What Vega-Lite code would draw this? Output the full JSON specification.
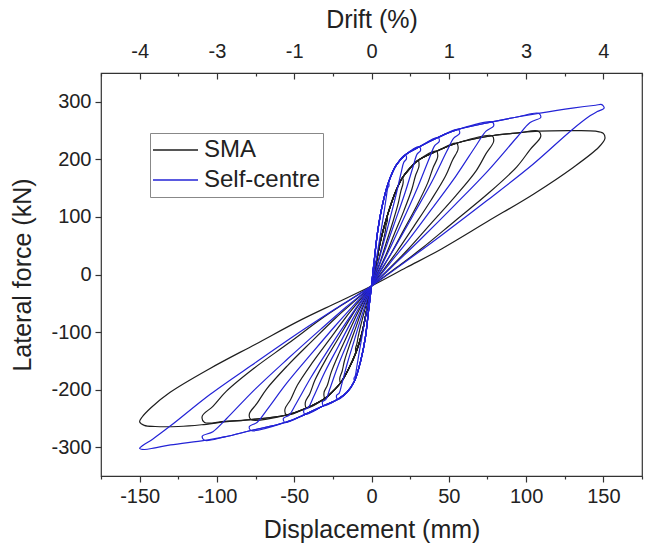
{
"$schema":"https://vega.github.io/schema/vega-lite/v6.json",
"width":541,"height":403,
"autosize":{"type":"none"},
"padding":{"left":101,"top":73,"right":3,"bottom":74},
"background":"white",
"config":{"view":{"stroke":"#333","strokeWidth":1.2},"font":"Liberation Sans",
"axis":{"labelFont":"Liberation Sans","titleFont":"Liberation Sans","labelFontSize":20,"titleFontSize":25,"labelColor":"#222","titleColor":"#222","titleFontWeight":"normal","tickColor":"#333","domain":false,"grid":false,"tickWidth":1.2}},
"data":{"values":[
{"s":"SMA","c":0,"d":0,"f":-20},{"s":"SMA","c":0,"d":3,"f":20},{"s":"SMA","c":0,"d":6,"f":60},{"s":"SMA","c":0,"d":10,"f":100},{"s":"SMA","c":0,"d":10.3,"f":94},{"s":"SMA","c":0,"d":9.5,"f":86},{"s":"SMA","c":0,"d":8.7,"f":72},{"s":"SMA","c":0,"d":7,"f":52},{"s":"SMA","c":0,"d":5,"f":30},{"s":"SMA","c":0,"d":3,"f":9},{"s":"SMA","c":0,"d":1.5,"f":-6},{"s":"SMA","c":0,"d":0,"f":-20},{"s":"SMA","c":0,"d":-1.5,"f":-34},{"s":"SMA","c":0,"d":-3,"f":-48},{"s":"SMA","c":0,"d":-5,"f":-68},{"s":"SMA","c":0,"d":-7,"f":-89},{"s":"SMA","c":0,"d":-8.7,"f":-109},{"s":"SMA","c":0,"d":-9.5,"f":-121},{"s":"SMA","c":0,"d":-10.3,"f":-128},{"s":"SMA","c":0,"d":-10,"f":-135},{"s":"SMA","c":0,"d":-6,"f":-100},{"s":"SMA","c":0,"d":-3,"f":-60},{"s":"SMA","c":0,"d":0,"f":-20},
{"s":"SMA","c":1,"d":0,"f":-20},{"s":"SMA","c":1,"d":3,"f":20},{"s":"SMA","c":1,"d":6,"f":60},{"s":"SMA","c":1,"d":10,"f":100},{"s":"SMA","c":1,"d":15,"f":140},{"s":"SMA","c":1,"d":20,"f":168},{"s":"SMA","c":1,"d":20.5,"f":160},{"s":"SMA","c":1,"d":19,"f":145},{"s":"SMA","c":1,"d":17.4,"f":125},{"s":"SMA","c":1,"d":14,"f":93},{"s":"SMA","c":1,"d":10,"f":59},{"s":"SMA","c":1,"d":6,"f":25},{"s":"SMA","c":1,"d":3,"f":3},{"s":"SMA","c":1,"d":0,"f":-20},{"s":"SMA","c":1,"d":-3,"f":-40},{"s":"SMA","c":1,"d":-6,"f":-60},{"s":"SMA","c":1,"d":-10,"f":-91},{"s":"SMA","c":1,"d":-14,"f":-121},{"s":"SMA","c":1,"d":-17.4,"f":-149},{"s":"SMA","c":1,"d":-19,"f":-168},{"s":"SMA","c":1,"d":-20.5,"f":-180},{"s":"SMA","c":1,"d":-20,"f":-188},{"s":"SMA","c":1,"d":-15,"f":-165},{"s":"SMA","c":1,"d":-10,"f":-135},{"s":"SMA","c":1,"d":-6,"f":-100},{"s":"SMA","c":1,"d":-3,"f":-60},{"s":"SMA","c":1,"d":0,"f":-20},
{"s":"SMA","c":2,"d":0,"f":-20},{"s":"SMA","c":2,"d":3,"f":20},{"s":"SMA","c":2,"d":6,"f":60},{"s":"SMA","c":2,"d":10,"f":100},{"s":"SMA","c":2,"d":15,"f":140},{"s":"SMA","c":2,"d":20,"f":168},{"s":"SMA","c":2,"d":25,"f":185},{"s":"SMA","c":2,"d":30,"f":198},{"s":"SMA","c":2,"d":30.7,"f":188},{"s":"SMA","c":2,"d":28.5,"f":172},{"s":"SMA","c":2,"d":26.1,"f":148},{"s":"SMA","c":2,"d":21,"f":111},{"s":"SMA","c":2,"d":15,"f":72},{"s":"SMA","c":2,"d":9,"f":32},{"s":"SMA","c":2,"d":4.5,"f":6},{"s":"SMA","c":2,"d":0,"f":-20},{"s":"SMA","c":2,"d":-4.5,"f":-43},{"s":"SMA","c":2,"d":-9,"f":-67},{"s":"SMA","c":2,"d":-15,"f":-102},{"s":"SMA","c":2,"d":-21,"f":-137},{"s":"SMA","c":2,"d":-26.1,"f":-170},{"s":"SMA","c":2,"d":-28.5,"f":-192},{"s":"SMA","c":2,"d":-30.7,"f":-205},{"s":"SMA","c":2,"d":-30,"f":-215},{"s":"SMA","c":2,"d":-25,"f":-203},{"s":"SMA","c":2,"d":-20,"f":-188},{"s":"SMA","c":2,"d":-15,"f":-165},{"s":"SMA","c":2,"d":-10,"f":-135},{"s":"SMA","c":2,"d":-6,"f":-100},{"s":"SMA","c":2,"d":-3,"f":-60},{"s":"SMA","c":2,"d":0,"f":-20},
{"s":"SMA","c":3,"d":0,"f":-20},{"s":"SMA","c":3,"d":3,"f":20},{"s":"SMA","c":3,"d":6,"f":60},{"s":"SMA","c":3,"d":10,"f":100},{"s":"SMA","c":3,"d":15,"f":140},{"s":"SMA","c":3,"d":20,"f":168},{"s":"SMA","c":3,"d":25,"f":185},{"s":"SMA","c":3,"d":30,"f":198},{"s":"SMA","c":3,"d":42,"f":214},{"s":"SMA","c":3,"d":42.8,"f":204},{"s":"SMA","c":3,"d":39.9,"f":186},{"s":"SMA","c":3,"d":36.5,"f":160},{"s":"SMA","c":3,"d":29.4,"f":120},{"s":"SMA","c":3,"d":21,"f":78},{"s":"SMA","c":3,"d":12.6,"f":36},{"s":"SMA","c":3,"d":6.3,"f":8},{"s":"SMA","c":3,"d":0,"f":-20},{"s":"SMA","c":3,"d":-6.3,"f":-45},{"s":"SMA","c":3,"d":-12.6,"f":-71},{"s":"SMA","c":3,"d":-21,"f":-109},{"s":"SMA","c":3,"d":-29.4,"f":-147},{"s":"SMA","c":3,"d":-36.5,"f":-183},{"s":"SMA","c":3,"d":-39.9,"f":-207},{"s":"SMA","c":3,"d":-42.8,"f":-222},{"s":"SMA","c":3,"d":-42,"f":-232},{"s":"SMA","c":3,"d":-30,"f":-215},{"s":"SMA","c":3,"d":-25,"f":-203},{"s":"SMA","c":3,"d":-20,"f":-188},{"s":"SMA","c":3,"d":-15,"f":-165},{"s":"SMA","c":3,"d":-10,"f":-135},{"s":"SMA","c":3,"d":-6,"f":-100},{"s":"SMA","c":3,"d":-3,"f":-60},{"s":"SMA","c":3,"d":0,"f":-20},
{"s":"SMA","c":4,"d":0,"f":-20},{"s":"SMA","c":4,"d":3,"f":20},{"s":"SMA","c":4,"d":6,"f":60},{"s":"SMA","c":4,"d":10,"f":100},{"s":"SMA","c":4,"d":15,"f":140},{"s":"SMA","c":4,"d":20,"f":168},{"s":"SMA","c":4,"d":25,"f":185},{"s":"SMA","c":4,"d":30,"f":198},{"s":"SMA","c":4,"d":42,"f":214},{"s":"SMA","c":4,"d":55,"f":228},{"s":"SMA","c":4,"d":56,"f":218},{"s":"SMA","c":4,"d":52.3,"f":198},{"s":"SMA","c":4,"d":47.9,"f":171},{"s":"SMA","c":4,"d":38.5,"f":129},{"s":"SMA","c":4,"d":27.5,"f":84},{"s":"SMA","c":4,"d":16.5,"f":40},{"s":"SMA","c":4,"d":8.3,"f":10},{"s":"SMA","c":4,"d":0,"f":-20},{"s":"SMA","c":4,"d":-8.3,"f":-47},{"s":"SMA","c":4,"d":-16.5,"f":-74},{"s":"SMA","c":4,"d":-27.5,"f":-114},{"s":"SMA","c":4,"d":-38.5,"f":-154},{"s":"SMA","c":4,"d":-47.9,"f":-192},{"s":"SMA","c":4,"d":-52.3,"f":-217},{"s":"SMA","c":4,"d":-56,"f":-234},{"s":"SMA","c":4,"d":-55,"f":-244},{"s":"SMA","c":4,"d":-42,"f":-232},{"s":"SMA","c":4,"d":-30,"f":-215},{"s":"SMA","c":4,"d":-25,"f":-203},{"s":"SMA","c":4,"d":-20,"f":-188},{"s":"SMA","c":4,"d":-15,"f":-165},{"s":"SMA","c":4,"d":-10,"f":-135},{"s":"SMA","c":4,"d":-6,"f":-100},{"s":"SMA","c":4,"d":-3,"f":-60},{"s":"SMA","c":4,"d":0,"f":-20},
{"s":"SMA","c":5,"d":0,"f":-20},{"s":"SMA","c":5,"d":3,"f":20},{"s":"SMA","c":5,"d":6,"f":60},{"s":"SMA","c":5,"d":10,"f":100},{"s":"SMA","c":5,"d":15,"f":140},{"s":"SMA","c":5,"d":20,"f":168},{"s":"SMA","c":5,"d":25,"f":185},{"s":"SMA","c":5,"d":30,"f":198},{"s":"SMA","c":5,"d":42,"f":214},{"s":"SMA","c":5,"d":55,"f":228},{"s":"SMA","c":5,"d":78,"f":241},{"s":"SMA","c":5,"d":79,"f":231},{"s":"SMA","c":5,"d":74.1,"f":210},{"s":"SMA","c":5,"d":67.9,"f":181},{"s":"SMA","c":5,"d":54.6,"f":137},{"s":"SMA","c":5,"d":39,"f":90},{"s":"SMA","c":5,"d":23.4,"f":43},{"s":"SMA","c":5,"d":11.7,"f":11},{"s":"SMA","c":5,"d":0,"f":-20},{"s":"SMA","c":5,"d":-11.7,"f":-48},{"s":"SMA","c":5,"d":-23.4,"f":-76},{"s":"SMA","c":5,"d":-39,"f":-117},{"s":"SMA","c":5,"d":-54.6,"f":-159},{"s":"SMA","c":5,"d":-67.9,"f":-199},{"s":"SMA","c":5,"d":-74.1,"f":-224},{"s":"SMA","c":5,"d":-79,"f":-242},{"s":"SMA","c":5,"d":-78,"f":-252},{"s":"SMA","c":5,"d":-55,"f":-244},{"s":"SMA","c":5,"d":-42,"f":-232},{"s":"SMA","c":5,"d":-30,"f":-215},{"s":"SMA","c":5,"d":-25,"f":-203},{"s":"SMA","c":5,"d":-20,"f":-188},{"s":"SMA","c":5,"d":-15,"f":-165},{"s":"SMA","c":5,"d":-10,"f":-135},{"s":"SMA","c":5,"d":-6,"f":-100},{"s":"SMA","c":5,"d":-3,"f":-60},{"s":"SMA","c":5,"d":0,"f":-20},
{"s":"SMA","c":6,"d":0,"f":-20},{"s":"SMA","c":6,"d":3,"f":20},{"s":"SMA","c":6,"d":6,"f":60},{"s":"SMA","c":6,"d":10,"f":100},{"s":"SMA","c":6,"d":15,"f":140},{"s":"SMA","c":6,"d":20,"f":168},{"s":"SMA","c":6,"d":25,"f":185},{"s":"SMA","c":6,"d":30,"f":198},{"s":"SMA","c":6,"d":42,"f":214},{"s":"SMA","c":6,"d":55,"f":228},{"s":"SMA","c":6,"d":78,"f":241},{"s":"SMA","c":6,"d":95,"f":246},{"s":"SMA","c":6,"d":108,"f":249},{"s":"SMA","c":6,"d":109.5,"f":240},{"s":"SMA","c":6,"d":102.6,"f":217},{"s":"SMA","c":6,"d":94,"f":187},{"s":"SMA","c":6,"d":75.6,"f":141},{"s":"SMA","c":6,"d":54,"f":93},{"s":"SMA","c":6,"d":32.4,"f":45},{"s":"SMA","c":6,"d":16.2,"f":12},{"s":"SMA","c":6,"d":0,"f":-20},{"s":"SMA","c":6,"d":-16.2,"f":-48},{"s":"SMA","c":6,"d":-32.4,"f":-77},{"s":"SMA","c":6,"d":-54,"f":-120},{"s":"SMA","c":6,"d":-75.6,"f":-162},{"s":"SMA","c":6,"d":-94,"f":-203},{"s":"SMA","c":6,"d":-102.6,"f":-229},{"s":"SMA","c":6,"d":-109.5,"f":-246},{"s":"SMA","c":6,"d":-108,"f":-257},{"s":"SMA","c":6,"d":-95,"f":-255},{"s":"SMA","c":6,"d":-78,"f":-252},{"s":"SMA","c":6,"d":-55,"f":-244},{"s":"SMA","c":6,"d":-42,"f":-232},{"s":"SMA","c":6,"d":-30,"f":-215},{"s":"SMA","c":6,"d":-25,"f":-203},{"s":"SMA","c":6,"d":-20,"f":-188},{"s":"SMA","c":6,"d":-15,"f":-165},{"s":"SMA","c":6,"d":-10,"f":-135},{"s":"SMA","c":6,"d":-6,"f":-100},{"s":"SMA","c":6,"d":-3,"f":-60},{"s":"SMA","c":6,"d":0,"f":-20},
{"s":"SMA","c":7,"d":0,"f":-20},{"s":"SMA","c":7,"d":3,"f":20},{"s":"SMA","c":7,"d":6,"f":60},{"s":"SMA","c":7,"d":10,"f":100},{"s":"SMA","c":7,"d":15,"f":140},{"s":"SMA","c":7,"d":20,"f":168},{"s":"SMA","c":7,"d":25,"f":185},{"s":"SMA","c":7,"d":30,"f":198},{"s":"SMA","c":7,"d":42,"f":214},{"s":"SMA","c":7,"d":55,"f":228},{"s":"SMA","c":7,"d":78,"f":241},{"s":"SMA","c":7,"d":95,"f":246},{"s":"SMA","c":7,"d":108,"f":249},{"s":"SMA","c":7,"d":130,"f":250},{"s":"SMA","c":7,"d":145,"f":249},{"s":"SMA","c":7,"d":150,"f":245},{"s":"SMA","c":7,"d":151,"f":236},{"s":"SMA","c":7,"d":147,"f":221},{"s":"SMA","c":7,"d":130.5,"f":186},{"s":"SMA","c":7,"d":105,"f":140},{"s":"SMA","c":7,"d":75,"f":92},{"s":"SMA","c":7,"d":45,"f":44},{"s":"SMA","c":7,"d":22.5,"f":12},{"s":"SMA","c":7,"d":0,"f":-20},{"s":"SMA","c":7,"d":-22.5,"f":-49},{"s":"SMA","c":7,"d":-45,"f":-78},{"s":"SMA","c":7,"d":-75,"f":-121},{"s":"SMA","c":7,"d":-105,"f":-164},{"s":"SMA","c":7,"d":-130.5,"f":-205},{"s":"SMA","c":7,"d":-142.5,"f":-231},{"s":"SMA","c":7,"d":-148.5,"f":-248},{"s":"SMA","c":7,"d":-150,"f":-256},{"s":"SMA","c":7,"d":-147,"f":-262},{"s":"SMA","c":7,"d":-140,"f":-264},{"s":"SMA","c":7,"d":-125,"f":-264},{"s":"SMA","c":7,"d":-110,"f":-261},{"s":"SMA","c":7,"d":-95,"f":-256},{"s":"SMA","c":7,"d":-78,"f":-252},{"s":"SMA","c":7,"d":-55,"f":-244},{"s":"SMA","c":7,"d":-42,"f":-232},{"s":"SMA","c":7,"d":-30,"f":-215},{"s":"SMA","c":7,"d":-25,"f":-203},{"s":"SMA","c":7,"d":-20,"f":-188},{"s":"SMA","c":7,"d":-15,"f":-165},{"s":"SMA","c":7,"d":-10,"f":-135},{"s":"SMA","c":7,"d":-6,"f":-100},{"s":"SMA","c":7,"d":-3,"f":-60},{"s":"SMA","c":7,"d":0,"f":-20},
{"s":"Self-centre","c":0,"d":0,"f":-20},{"s":"Self-centre","c":0,"d":2,"f":30},{"s":"Self-centre","c":0,"d":4,"f":75},{"s":"Self-centre","c":0,"d":7,"f":120},{"s":"Self-centre","c":0,"d":11,"f":160},{"s":"Self-centre","c":0,"d":11.3,"f":154},{"s":"Self-centre","c":0,"d":10.5,"f":150},{"s":"Self-centre","c":0,"d":9.6,"f":135},{"s":"Self-centre","c":0,"d":7.7,"f":101},{"s":"Self-centre","c":0,"d":5.5,"f":65},{"s":"Self-centre","c":0,"d":3.3,"f":30},{"s":"Self-centre","c":0,"d":1.7,"f":4},{"s":"Self-centre","c":0,"d":0,"f":-20},{"s":"Self-centre","c":0,"d":-1.7,"f":-42},{"s":"Self-centre","c":0,"d":-3.3,"f":-65},{"s":"Self-centre","c":0,"d":-5.5,"f":-98},{"s":"Self-centre","c":0,"d":-7.7,"f":-131},{"s":"Self-centre","c":0,"d":-9.6,"f":-162},{"s":"Self-centre","c":0,"d":-10.5,"f":-176},{"s":"Self-centre","c":0,"d":-11.3,"f":-180},{"s":"Self-centre","c":0,"d":-11,"f":-185},{"s":"Self-centre","c":0,"d":-7,"f":-150},{"s":"Self-centre","c":0,"d":-4,"f":-110},{"s":"Self-centre","c":0,"d":-2,"f":-65},{"s":"Self-centre","c":0,"d":0,"f":-20},
{"s":"Self-centre","c":1,"d":0,"f":-20},{"s":"Self-centre","c":1,"d":2,"f":30},{"s":"Self-centre","c":1,"d":4,"f":75},{"s":"Self-centre","c":1,"d":7,"f":120},{"s":"Self-centre","c":1,"d":11,"f":160},{"s":"Self-centre","c":1,"d":16,"f":190},{"s":"Self-centre","c":1,"d":22,"f":208},{"s":"Self-centre","c":1,"d":22.6,"f":201},{"s":"Self-centre","c":1,"d":20.9,"f":195},{"s":"Self-centre","c":1,"d":19.1,"f":176},{"s":"Self-centre","c":1,"d":15.4,"f":133},{"s":"Self-centre","c":1,"d":11,"f":87},{"s":"Self-centre","c":1,"d":6.6,"f":43},{"s":"Self-centre","c":1,"d":3.3,"f":11},{"s":"Self-centre","c":1,"d":0,"f":-20},{"s":"Self-centre","c":1,"d":-3.3,"f":-47},{"s":"Self-centre","c":1,"d":-6.6,"f":-74},{"s":"Self-centre","c":1,"d":-11,"f":-113},{"s":"Self-centre","c":1,"d":-15.4,"f":-152},{"s":"Self-centre","c":1,"d":-19.1,"f":-189},{"s":"Self-centre","c":1,"d":-20.9,"f":-206},{"s":"Self-centre","c":1,"d":-22.6,"f":-210},{"s":"Self-centre","c":1,"d":-22,"f":-217},{"s":"Self-centre","c":1,"d":-16,"f":-205},{"s":"Self-centre","c":1,"d":-11,"f":-185},{"s":"Self-centre","c":1,"d":-7,"f":-150},{"s":"Self-centre","c":1,"d":-4,"f":-110},{"s":"Self-centre","c":1,"d":-2,"f":-65},{"s":"Self-centre","c":1,"d":0,"f":-20},
{"s":"Self-centre","c":2,"d":0,"f":-20},{"s":"Self-centre","c":2,"d":2,"f":30},{"s":"Self-centre","c":2,"d":4,"f":75},{"s":"Self-centre","c":2,"d":7,"f":120},{"s":"Self-centre","c":2,"d":11,"f":160},{"s":"Self-centre","c":2,"d":16,"f":190},{"s":"Self-centre","c":2,"d":22,"f":208},{"s":"Self-centre","c":2,"d":31,"f":222},{"s":"Self-centre","c":2,"d":31.7,"f":215},{"s":"Self-centre","c":2,"d":29.5,"f":209},{"s":"Self-centre","c":2,"d":27,"f":188},{"s":"Self-centre","c":2,"d":21.7,"f":142},{"s":"Self-centre","c":2,"d":15.5,"f":94},{"s":"Self-centre","c":2,"d":9.3,"f":47},{"s":"Self-centre","c":2,"d":4.7,"f":13},{"s":"Self-centre","c":2,"d":0,"f":-20},{"s":"Self-centre","c":2,"d":-4.7,"f":-48},{"s":"Self-centre","c":2,"d":-9.3,"f":-77},{"s":"Self-centre","c":2,"d":-15.5,"f":-118},{"s":"Self-centre","c":2,"d":-21.7,"f":-159},{"s":"Self-centre","c":2,"d":-27,"f":-199},{"s":"Self-centre","c":2,"d":-29.5,"f":-217},{"s":"Self-centre","c":2,"d":-31.7,"f":-221},{"s":"Self-centre","c":2,"d":-31,"f":-228},{"s":"Self-centre","c":2,"d":-22,"f":-217},{"s":"Self-centre","c":2,"d":-16,"f":-205},{"s":"Self-centre","c":2,"d":-11,"f":-185},{"s":"Self-centre","c":2,"d":-7,"f":-150},{"s":"Self-centre","c":2,"d":-4,"f":-110},{"s":"Self-centre","c":2,"d":-2,"f":-65},{"s":"Self-centre","c":2,"d":0,"f":-20},
{"s":"Self-centre","c":3,"d":0,"f":-20},{"s":"Self-centre","c":3,"d":2,"f":30},{"s":"Self-centre","c":3,"d":4,"f":75},{"s":"Self-centre","c":3,"d":7,"f":120},{"s":"Self-centre","c":3,"d":11,"f":160},{"s":"Self-centre","c":3,"d":16,"f":190},{"s":"Self-centre","c":3,"d":22,"f":208},{"s":"Self-centre","c":3,"d":31,"f":222},{"s":"Self-centre","c":3,"d":43,"f":238},{"s":"Self-centre","c":3,"d":43.8,"f":231},{"s":"Self-centre","c":3,"d":40.9,"f":224},{"s":"Self-centre","c":3,"d":37.4,"f":202},{"s":"Self-centre","c":3,"d":30.1,"f":153},{"s":"Self-centre","c":3,"d":21.5,"f":101},{"s":"Self-centre","c":3,"d":12.9,"f":51},{"s":"Self-centre","c":3,"d":6.5,"f":15},{"s":"Self-centre","c":3,"d":0,"f":-20},{"s":"Self-centre","c":3,"d":-6.5,"f":-50},{"s":"Self-centre","c":3,"d":-12.9,"f":-81},{"s":"Self-centre","c":3,"d":-21.5,"f":-125},{"s":"Self-centre","c":3,"d":-30.1,"f":-169},{"s":"Self-centre","c":3,"d":-37.4,"f":-212},{"s":"Self-centre","c":3,"d":-40.9,"f":-231},{"s":"Self-centre","c":3,"d":-43.8,"f":-236},{"s":"Self-centre","c":3,"d":-43,"f":-243},{"s":"Self-centre","c":3,"d":-31,"f":-228},{"s":"Self-centre","c":3,"d":-22,"f":-217},{"s":"Self-centre","c":3,"d":-16,"f":-205},{"s":"Self-centre","c":3,"d":-11,"f":-185},{"s":"Self-centre","c":3,"d":-7,"f":-150},{"s":"Self-centre","c":3,"d":-4,"f":-110},{"s":"Self-centre","c":3,"d":-2,"f":-65},{"s":"Self-centre","c":3,"d":0,"f":-20},
{"s":"Self-centre","c":4,"d":0,"f":-20},{"s":"Self-centre","c":4,"d":2,"f":30},{"s":"Self-centre","c":4,"d":4,"f":75},{"s":"Self-centre","c":4,"d":7,"f":120},{"s":"Self-centre","c":4,"d":11,"f":160},{"s":"Self-centre","c":4,"d":16,"f":190},{"s":"Self-centre","c":4,"d":22,"f":208},{"s":"Self-centre","c":4,"d":31,"f":222},{"s":"Self-centre","c":4,"d":43,"f":238},{"s":"Self-centre","c":4,"d":56,"f":252},{"s":"Self-centre","c":4,"d":57,"f":245},{"s":"Self-centre","c":4,"d":53.2,"f":237},{"s":"Self-centre","c":4,"d":48.7,"f":214},{"s":"Self-centre","c":4,"d":39.2,"f":162},{"s":"Self-centre","c":4,"d":28,"f":108},{"s":"Self-centre","c":4,"d":16.8,"f":55},{"s":"Self-centre","c":4,"d":8.4,"f":17},{"s":"Self-centre","c":4,"d":0,"f":-20},{"s":"Self-centre","c":4,"d":-8.4,"f":-52},{"s":"Self-centre","c":4,"d":-16.8,"f":-85},{"s":"Self-centre","c":4,"d":-28,"f":-131},{"s":"Self-centre","c":4,"d":-39.2,"f":-179},{"s":"Self-centre","c":4,"d":-48.7,"f":-224},{"s":"Self-centre","c":4,"d":-53.2,"f":-244},{"s":"Self-centre","c":4,"d":-57,"f":-250},{"s":"Self-centre","c":4,"d":-56,"f":-257},{"s":"Self-centre","c":4,"d":-43,"f":-243},{"s":"Self-centre","c":4,"d":-31,"f":-228},{"s":"Self-centre","c":4,"d":-22,"f":-217},{"s":"Self-centre","c":4,"d":-16,"f":-205},{"s":"Self-centre","c":4,"d":-11,"f":-185},{"s":"Self-centre","c":4,"d":-7,"f":-150},{"s":"Self-centre","c":4,"d":-4,"f":-110},{"s":"Self-centre","c":4,"d":-2,"f":-65},{"s":"Self-centre","c":4,"d":0,"f":-20},
{"s":"Self-centre","c":5,"d":0,"f":-20},{"s":"Self-centre","c":5,"d":2,"f":30},{"s":"Self-centre","c":5,"d":4,"f":75},{"s":"Self-centre","c":5,"d":7,"f":120},{"s":"Self-centre","c":5,"d":11,"f":160},{"s":"Self-centre","c":5,"d":16,"f":190},{"s":"Self-centre","c":5,"d":22,"f":208},{"s":"Self-centre","c":5,"d":31,"f":222},{"s":"Self-centre","c":5,"d":43,"f":238},{"s":"Self-centre","c":5,"d":56,"f":252},{"s":"Self-centre","c":5,"d":78,"f":265},{"s":"Self-centre","c":5,"d":79,"f":258},{"s":"Self-centre","c":5,"d":74.1,"f":249},{"s":"Self-centre","c":5,"d":67.9,"f":225},{"s":"Self-centre","c":5,"d":54.6,"f":171},{"s":"Self-centre","c":5,"d":39,"f":114},{"s":"Self-centre","c":5,"d":23.4,"f":58},{"s":"Self-centre","c":5,"d":11.7,"f":19},{"s":"Self-centre","c":5,"d":0,"f":-20},{"s":"Self-centre","c":5,"d":-11.7,"f":-54},{"s":"Self-centre","c":5,"d":-23.4,"f":-89},{"s":"Self-centre","c":5,"d":-39,"f":-138},{"s":"Self-centre","c":5,"d":-54.6,"f":-188},{"s":"Self-centre","c":5,"d":-67.9,"f":-236},{"s":"Self-centre","c":5,"d":-74.1,"f":-257},{"s":"Self-centre","c":5,"d":-79,"f":-264},{"s":"Self-centre","c":5,"d":-78,"f":-271},{"s":"Self-centre","c":5,"d":-56,"f":-257},{"s":"Self-centre","c":5,"d":-43,"f":-243},{"s":"Self-centre","c":5,"d":-31,"f":-228},{"s":"Self-centre","c":5,"d":-22,"f":-217},{"s":"Self-centre","c":5,"d":-16,"f":-205},{"s":"Self-centre","c":5,"d":-11,"f":-185},{"s":"Self-centre","c":5,"d":-7,"f":-150},{"s":"Self-centre","c":5,"d":-4,"f":-110},{"s":"Self-centre","c":5,"d":-2,"f":-65},{"s":"Self-centre","c":5,"d":0,"f":-20},
{"s":"Self-centre","c":6,"d":0,"f":-20},{"s":"Self-centre","c":6,"d":2,"f":30},{"s":"Self-centre","c":6,"d":4,"f":75},{"s":"Self-centre","c":6,"d":7,"f":120},{"s":"Self-centre","c":6,"d":11,"f":160},{"s":"Self-centre","c":6,"d":16,"f":190},{"s":"Self-centre","c":6,"d":22,"f":208},{"s":"Self-centre","c":6,"d":31,"f":222},{"s":"Self-centre","c":6,"d":43,"f":238},{"s":"Self-centre","c":6,"d":56,"f":252},{"s":"Self-centre","c":6,"d":78,"f":265},{"s":"Self-centre","c":6,"d":95,"f":274},{"s":"Self-centre","c":6,"d":108,"f":280},{"s":"Self-centre","c":6,"d":109.5,"f":273},{"s":"Self-centre","c":6,"d":102.6,"f":264},{"s":"Self-centre","c":6,"d":94,"f":238},{"s":"Self-centre","c":6,"d":75.6,"f":181},{"s":"Self-centre","c":6,"d":54,"f":121},{"s":"Self-centre","c":6,"d":32.4,"f":63},{"s":"Self-centre","c":6,"d":16.2,"f":21},{"s":"Self-centre","c":6,"d":0,"f":-20},{"s":"Self-centre","c":6,"d":-16.2,"f":-56},{"s":"Self-centre","c":6,"d":-32.4,"f":-94},{"s":"Self-centre","c":6,"d":-54,"f":-146},{"s":"Self-centre","c":6,"d":-75.6,"f":-200},{"s":"Self-centre","c":6,"d":-94,"f":-251},{"s":"Self-centre","c":6,"d":-102.6,"f":-273},{"s":"Self-centre","c":6,"d":-109.5,"f":-281},{"s":"Self-centre","c":6,"d":-108,"f":-288},{"s":"Self-centre","c":6,"d":-95,"f":-282},{"s":"Self-centre","c":6,"d":-78,"f":-271},{"s":"Self-centre","c":6,"d":-56,"f":-257},{"s":"Self-centre","c":6,"d":-43,"f":-243},{"s":"Self-centre","c":6,"d":-31,"f":-228},{"s":"Self-centre","c":6,"d":-22,"f":-217},{"s":"Self-centre","c":6,"d":-16,"f":-205},{"s":"Self-centre","c":6,"d":-11,"f":-185},{"s":"Self-centre","c":6,"d":-7,"f":-150},{"s":"Self-centre","c":6,"d":-4,"f":-110},{"s":"Self-centre","c":6,"d":-2,"f":-65},{"s":"Self-centre","c":6,"d":0,"f":-20},
{"s":"Self-centre","c":7,"d":0,"f":-20},{"s":"Self-centre","c":7,"d":2,"f":30},{"s":"Self-centre","c":7,"d":4,"f":75},{"s":"Self-centre","c":7,"d":7,"f":120},{"s":"Self-centre","c":7,"d":11,"f":160},{"s":"Self-centre","c":7,"d":16,"f":190},{"s":"Self-centre","c":7,"d":22,"f":208},{"s":"Self-centre","c":7,"d":31,"f":222},{"s":"Self-centre","c":7,"d":43,"f":238},{"s":"Self-centre","c":7,"d":56,"f":252},{"s":"Self-centre","c":7,"d":78,"f":265},{"s":"Self-centre","c":7,"d":95,"f":274},{"s":"Self-centre","c":7,"d":108,"f":280},{"s":"Self-centre","c":7,"d":130,"f":289},{"s":"Self-centre","c":7,"d":145,"f":294},{"s":"Self-centre","c":7,"d":149,"f":295},{"s":"Self-centre","c":7,"d":150.5,"f":289},{"s":"Self-centre","c":7,"d":146,"f":283},{"s":"Self-centre","c":7,"d":141.6,"f":276},{"s":"Self-centre","c":7,"d":129.6,"f":251},{"s":"Self-centre","c":7,"d":104.3,"f":191},{"s":"Self-centre","c":7,"d":74.5,"f":128},{"s":"Self-centre","c":7,"d":44.7,"f":67},{"s":"Self-centre","c":7,"d":22.4,"f":23},{"s":"Self-centre","c":7,"d":0,"f":-20},{"s":"Self-centre","c":7,"d":-22.4,"f":-58},{"s":"Self-centre","c":7,"d":-44.7,"f":-97},{"s":"Self-centre","c":7,"d":-74.5,"f":-152},{"s":"Self-centre","c":7,"d":-104.3,"f":-208},{"s":"Self-centre","c":7,"d":-129.6,"f":-262},{"s":"Self-centre","c":7,"d":-141.6,"f":-286},{"s":"Self-centre","c":7,"d":-148,"f":-297},{"s":"Self-centre","c":7,"d":-150,"f":-302},{"s":"Self-centre","c":7,"d":-147,"f":-304},{"s":"Self-centre","c":7,"d":-140,"f":-301},{"s":"Self-centre","c":7,"d":-130,"f":-296},{"s":"Self-centre","c":7,"d":-108,"f":-288},{"s":"Self-centre","c":7,"d":-95,"f":-282},{"s":"Self-centre","c":7,"d":-78,"f":-271},{"s":"Self-centre","c":7,"d":-56,"f":-257},{"s":"Self-centre","c":7,"d":-43,"f":-243},{"s":"Self-centre","c":7,"d":-31,"f":-228},{"s":"Self-centre","c":7,"d":-22,"f":-217},{"s":"Self-centre","c":7,"d":-16,"f":-205},{"s":"Self-centre","c":7,"d":-11,"f":-185},{"s":"Self-centre","c":7,"d":-7,"f":-150},{"s":"Self-centre","c":7,"d":-4,"f":-110},{"s":"Self-centre","c":7,"d":-2,"f":-65},{"s":"Self-centre","c":7,"d":0,"f":-20}
]},
"layer":[
{"mark":{"type":"line","strokeWidth":1.2,"clip":true,"interpolate":"catmull-rom"},
 "encoding":{
  "x":{"field":"d","type":"quantitative","scale":{"domain":[-175,175],"nice":false,"zero":false},
       "axis":{"orient":"bottom","title":"Displacement (mm)","values":[-175,-150,-125,-100,-75,-50,-25,0,25,50,75,100,125,150,175],
               "labelExpr":"datum.value % 50 === 0 ? '' + datum.value : ''",
               "tickSize":{"condition":{"test":"datum.value % 50 === 0","value":6},"value":3},
               "labelPadding":4,"titlePadding":11}},
  "y":{"field":"f","type":"quantitative","scale":{"domain":[-350,350],"nice":false,"zero":false},
       "axis":{"title":"Lateral force (kN)","values":[-300,-200,-100,0,100,200,300],"labelExpr":"'' + datum.value","tickSize":6,"labelPadding":4,"titlePadding":15}},
  "color":{"field":"s","type":"nominal","scale":{"domain":["SMA","Self-centre"],"range":["#1e1e1e","#2323d6"]},
       "legend":{"orient":"none","legendX":49,"legendY":60,"title":null,"symbolType":"stroke","symbolSize":2025,"symbolStrokeWidth":1.5,"clipHeight":30,
                 "labelFontSize":24,"labelFont":"Liberation Sans","labelColor":"#222","strokeColor":"#888","fillColor":"white","padding":2,"rowPadding":0,"labelOffset":5}},
  "detail":{"field":"c","type":"nominal"},
  "order":{"value":null}
 }},
{"mark":{"type":"point","opacity":0},
 "encoding":{
  "x":{"field":"d","type":"quantitative",
       "axis":{"orient":"top","title":"Drift (%)","values":[-175,-150,-125,-100,-75,-50,-25,0,25,50,75,100,125,150,175],
               "labelExpr":"datum.value === -150 ? '-4' : datum.value === -100 ? '-3' : datum.value === -50 ? '-1' : datum.value === 0 ? '0' : datum.value === 50 ? '1' : datum.value === 100 ? '3' : datum.value === 150 ? '4' : ''",
               "tickSize":{"condition":{"test":"datum.value % 50 === 0","value":-6},"value":-3},
               "labelPadding":18,"titlePadding":9}},
  "y":{"field":"f","type":"quantitative"}
 }}
],
"resolve":{"axis":{"x":"independent"}}
}
